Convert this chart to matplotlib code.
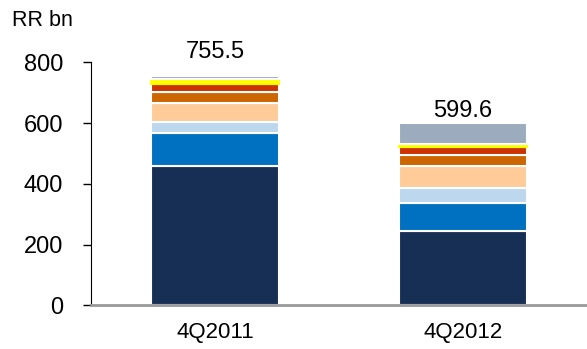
import matplotlib
matplotlib.use("Agg")
import matplotlib.pyplot as plt
import numpy as np

plt.rcParams['font.family'] = ['Liberation Sans', 'DejaVu Sans']

periods = ["4Q2011", "4Q2012"]
totals = [755.5, 599.6]

# stacked segments, bottom to top (RR bn)
navy = [460, 244]
blue = [109, 92.5]
light_blue = [35, 51]
peach = [63, 73]
orange = [36.5, 35]
red = [26.5, 27.5]
yellow = [15.5, 9]
grey = [10, 67.6]

segments = [navy, blue, light_blue, peach, orange, red, yellow, grey]
colors = ["#172f55", "#0070c0", "#bdd7ee", "#ffcc99", "#cc6600", "#cc3300", "#ffff00", "#9dabbe"]
edges = ["white"] * 6 + ["#ffff00", "white"]
label_offsets = [9, 1]

fig = plt.figure(figsize=(5.87, 3.49), dpi=100)
ax = fig.add_axes([0.155, 0.125, 0.845, 0.696])

x = np.arange(len(periods))
bottom = np.zeros(len(periods))
for vals, c, e in zip(segments, colors, edges):
    ax.bar(x, vals, bottom=bottom, width=0.52, color=c, edgecolor=e, linewidth=1.5)
    bottom += np.array(vals)

for xi, t, off in zip(x, totals, label_offsets):
    ax.annotate(f"{t:.1f}", (xi, t), xytext=(0, off), textcoords="offset points",
                ha="center", va="bottom", fontsize=17)

ax.set_xlim(-0.5, 1.5)
ax.set_ylim(0, 800)
ax.set_yticks([0, 200, 400, 600, 800])
ax.set_xticks(x)
ax.set_xticklabels(periods)
ax.tick_params(axis='y', labelsize=17, length=6, width=1, direction='out', pad=14)
ax.tick_params(axis='x', labelsize=16, length=0, pad=12)

for s in ["top", "right"]:
    ax.spines[s].set_visible(False)
ax.spines["left"].set_color("black")
ax.spines["bottom"].set_color("#999999")
ax.spines["bottom"].set_linewidth(2)

fig.text(0.02, 0.94, "RR bn", fontsize=15.5, ha="left", va="center")

fig.savefig("out.png", dpi=100)
